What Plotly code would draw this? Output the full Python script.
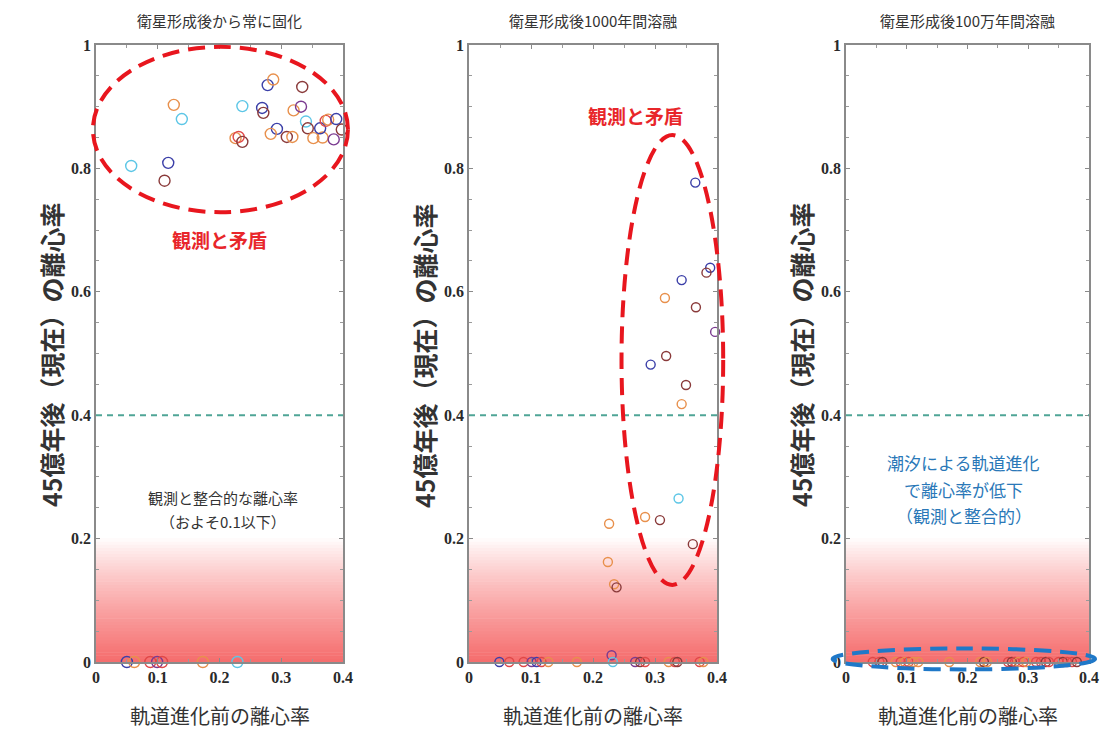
import plotly.graph_objects as go

# ---------------- data ----------------
titles = ["衛星形成後から常に固化", "衛星形成後1000年間溶融", "衛星形成後100万年間溶融"]
y_title = "45億年後（現在）の離心率"
x_title = "軌道進化前の離心率"
x_ticks = [0, 0.1, 0.2, 0.3, 0.4]
x_tick_text = ["0", "0.1", "0.2", "0.3", "0.4"]
y_ticks = [0, 0.2, 0.4, 0.6, 0.8, 1.0]
y_tick_text = ["0", "0.2", "0.4", "0.6", "0.8", "1"]
threshold = 0.4

# panel 1: always solid
p1_x = [0.057, 0.117, 0.111, 0.126, 0.139, 0.237, 0.226, 0.231, 0.237, 0.278, 0.287, 0.269,
        0.271, 0.293, 0.283, 0.309, 0.318, 0.320, 0.332, 0.334, 0.340, 0.343, 0.352, 0.367,
        0.363, 0.372, 0.376, 0.389, 0.385, 0.398,
        0.050, 0.062, 0.088, 0.099, 0.107, 0.173, 0.229]
p1_y = [0.804, 0.809, 0.780, 0.903, 0.880, 0.901, 0.849, 0.851, 0.843, 0.935, 0.944, 0.898,
        0.890, 0.864, 0.856, 0.851, 0.851, 0.894, 0.900, 0.932, 0.876, 0.865, 0.849, 0.850,
        0.865, 0.877, 0.879, 0.880, 0.847, 0.863,
        0, 0, 0, 0, 0, 0, 0]
p1_g = ["c", "b", "d", "o", "c", "c", "o", "r", "d", "b", "o", "b",
        "d", "b", "o", "d", "o", "o", "p", "d", "c", "d", "o", "o",
        "b", "r", "o", "b", "p", "d",
        "b", "o", "r", "p", "r", "o", "c"]

# panel 2: molten for 1000 yr
p2_x = [0.365, 0.389, 0.383, 0.343, 0.316, 0.366, 0.397, 0.293, 0.318, 0.350, 0.343, 0.338,
        0.226, 0.308, 0.284, 0.224, 0.234, 0.238, 0.361, 0.230,
        0.049, 0.065, 0.088, 0.101, 0.109, 0.117, 0.128, 0.174, 0.232, 0.268, 0.276, 0.284,
        0.322, 0.332, 0.336, 0.372, 0.378]
p2_y = [0.777, 0.639, 0.631, 0.619, 0.590, 0.575, 0.535, 0.482, 0.496, 0.449, 0.418, 0.265,
        0.224, 0.230, 0.235, 0.162, 0.126, 0.121, 0.191, 0.011,
        0, 0, 0, 0, 0, 0, 0, 0, 0, 0, 0, 0, 0, 0, 0, 0, 0]
p2_g = ["b", "b", "d", "b", "o", "d", "p", "b", "d", "d", "o", "c",
        "o", "d", "o", "o", "o", "d", "d", "p",
        "b", "r", "r", "p", "b", "r", "o", "o", "c", "p", "d", "r",
        "o", "r", "d", "r", "o"]

# panel 3: molten for 1 Myr
p3_x = [0.044, 0.055, 0.060, 0.082, 0.090, 0.097, 0.103, 0.111, 0.119, 0.170, 0.221, 0.227,
        0.232, 0.267, 0.273, 0.278, 0.284, 0.292, 0.297, 0.313, 0.321, 0.329, 0.334, 0.350,
        0.357, 0.364, 0.372, 0.380]
p3_y = [0] * 28
p3_g = ["r", "r", "d", "o", "r", "o", "r", "o", "o", "o", "o", "d",
        "o", "r", "d", "r", "o", "r", "o", "r", "r", "d", "r", "r",
        "d", "r", "r", "d"]

group_colors = {"b": "#3b3fa8", "o": "#e8904c", "c": "#5cc6e6", "d": "#8a3a3a",
                "r": "#e04848", "p": "#7a3a90"}

# ---------------- figure ----------------
OFF = 8                      # page body margin
W, H = 1109 - OFF, 729 - OFF
px_left = [96, 469, 846]
px_right = [343, 717, 1089]
px_top, px_bottom = 45, 662


def fx(px):
    return (px - OFF) / W


def fy(py):
    return 1 - (py - OFF) / H


fig = go.Figure()
panels = [(p1_x, p1_y, p1_g, 11), (p2_x, p2_y, p2_g, 9), (p3_x, p3_y, p3_g, 9)]

tick_font = dict(family="Liberation Serif", size=16, color="#2a2a2a", weight="bold")
jp = "Noto Sans CJK JP"

for i, (xs, ys, gs, msize) in enumerate(panels):
    n = "" if i == 0 else str(i + 1)
    fig.add_trace(go.Scatter(
        x=xs, y=ys, mode="markers", xaxis="x" + n, yaxis="y" + n,
        marker=dict(symbol="circle-open", size=msize,
                    color=[group_colors[g] for g in gs], line=dict(width=1.4)),
        cliponaxis=False, showlegend=False, hoverinfo="x+y"))
    axis_common = dict(showline=True, linecolor="#8a8a8a", linewidth=1.5, mirror="allticks",
                       ticks="inside", ticklen=4, tickcolor="#8a8a8a", showgrid=False,
                       zeroline=False, tickfont=tick_font, automargin=False,
                       minor=dict(ticks="inside", ticklen=3, tickcolor="#9a9a9a", dtick=0.05))
    fig.update_layout({
        "xaxis" + n: dict(domain=[fx(px_left[i]), fx(px_right[i])], range=[0, 0.4],
                          tickvals=x_ticks, ticktext=x_tick_text, anchor="y" + n,
                          **axis_common),
        "yaxis" + n: dict(domain=[fy(px_bottom), fy(px_top)], range=[0, 1],
                          tickvals=y_ticks, ticktext=y_tick_text, anchor="x" + n,
                          **axis_common),
    })
    xr, yr = "x" + n, "y" + n
    # red gradient band (0 - 0.2)
    steps = 40
    for k in range(steps):
        f0 = k / steps
        t = 1 - (k + 0.5) / steps
        r = int(round(255 - (255 - 245) * t))
        gb = int(round(255 - (255 - 108) * t ** 0.85))
        fig.add_shape(type="rect", xref=xr + " domain", yref=yr,
                      x0=0, x1=1, y0=0.2 * f0, y1=0.2 * (k + 1) / steps + 0.001,
                      fillcolor=f"rgb({r},{gb},{gb})", line=dict(width=0), layer="below")
    # threshold line
    fig.add_shape(type="line", xref=xr + " domain", yref=yr, x0=0, x1=1,
                  y0=threshold, y1=threshold,
                  line=dict(color="#4fa596", width=2, dash="6px,5px"))
    # titles
    cx = fx((px_left[i] + px_right[i]) / 2)
    fig.add_annotation(text=titles[i], xref="paper", yref="paper", x=cx, y=fy(8),
                       xanchor="center", yanchor="top", showarrow=False,
                       font=dict(family=jp, size=15, color="#333"))
    fig.add_annotation(text=x_title, xref="paper", yref="paper", x=cx, y=fy(715),
                       xanchor="center", yanchor="middle", showarrow=False,
                       font=dict(family=jp, size=20, color="#333"))
    fig.add_annotation(text=y_title, xref="paper", yref="paper",
                       x=fx(px_left[i] - 45), y=fy(355), textangle=-90,
                       xanchor="center", yanchor="middle", showarrow=False,
                       font=dict(family=jp, size=25, color="#333", weight="bold"))


def ellipse(xr, yr, x0, x1, y0, y1, color):
    fig.add_shape(type="circle", xref=xr + " domain", yref=yr + " domain",
                  x0=x0 / 0.4, x1=x1 / 0.4, y0=y0, y1=y1,
                  line=dict(color=color, width=4, dash="17px,9px"))


ellipse("x", "y", -0.005, 0.408, 0.729, 0.997, "#e8161e")
ellipse("x2", "y2", 0.246, 0.41, 0.125, 0.854, "#e8161e")
ellipse("x3", "y3", -0.022, 0.41, -0.012, 0.022, "#1f78c8")

red = "#e8262a"
fig.add_annotation(text="観測と矛盾", xref="x", yref="y", x=0.2, y=0.684, showarrow=False,
                   font=dict(family=jp, size=19, color=red, weight="bold"))
fig.add_annotation(text="観測と矛盾", xref="x2", yref="y2", x=0.269, y=0.885, showarrow=False,
                   font=dict(family=jp, size=19, color=red, weight="bold"))
fig.add_annotation(text="観測と整合的な離心率", xref="x", yref="y", x=0.205, y=0.267,
                   showarrow=False, font=dict(family=jp, size=15, color="#333"))
fig.add_annotation(text="（およそ0.1以下）", xref="x", yref="y", x=0.205, y=0.228,
                   showarrow=False, font=dict(family=jp, size=15, color="#333"))
blue = "#2a78b8"
for txt, yy in [("潮汐による軌道進化", 0.324), ("で離心率が低下", 0.280), ("（観測と整合的）", 0.237)]:
    fig.add_annotation(text=txt, xref="x3", yref="y3", x=0.194, y=yy, showarrow=False,
                       font=dict(family=jp, size=17, color=blue))

fig.update_layout(width=W, height=H, margin=dict(l=0, r=0, t=0, b=0),
                  paper_bgcolor="white", plot_bgcolor="white", showlegend=False)

fig.write_html("out.html")
